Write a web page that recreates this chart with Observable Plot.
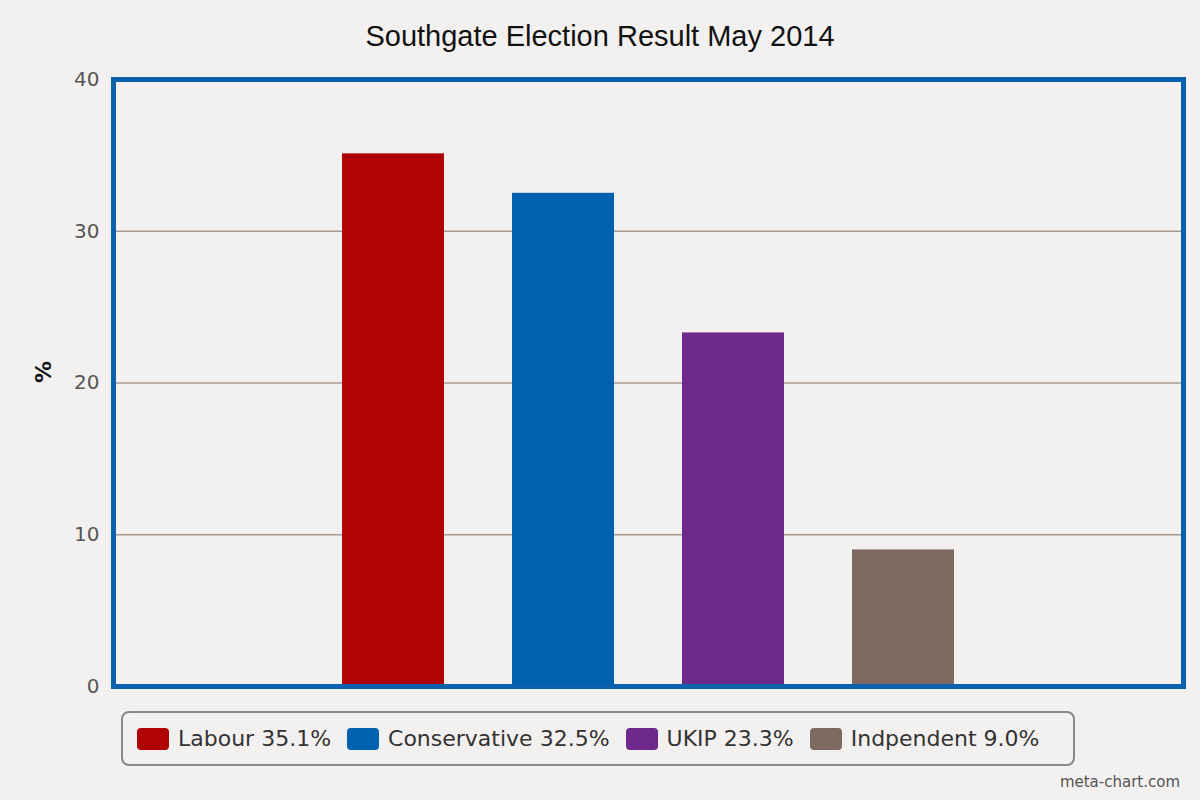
<!DOCTYPE html>
<html><head><meta charset="utf-8">
<script src="https://cdn.jsdelivr.net/npm/d3@7"></script>
<script src="https://cdn.jsdelivr.net/npm/@observablehq/plot@0.6"></script>
<style>
body{margin:0;background:#f3f1ef;font-family:"DejaVu Sans",sans-serif;}
#wrap{position:relative;width:1200px;height:800px;}
#title{position:absolute;top:20px;left:0;width:1200px;text-align:center;font:29px "Liberation Sans",Arial,sans-serif;color:#111;}
#legend{position:absolute;left:121px;top:711px;width:954px;height:55px;border:2px solid #8a8a8a;border-radius:8px;box-sizing:border-box;display:flex;align-items:center;padding-left:14px;font-size:22px;color:#333;}
.item{display:flex;align-items:center;margin-right:16px;}
.sw{width:32px;height:22px;border-radius:4px;margin-right:9px;}
#credit{position:absolute;right:20px;top:773px;font-size:15px;color:#555;}
</style></head><body>
<div id="wrap"><div id="title">Southgate Election Result May 2014</div><div id="chart"></div><div id="legend"></div><div id="credit">meta-chart.com</div></div>
<script>
const parties = ["Labour","Conservative","UKIP","Indpendent"];
const values = [35.1,32.5,23.3,9.0];
const colors = ["#b00404","#0062ae","#6d2a8c","#7f6a62"];
const yTicks = [0,10,20,30,40];
const data = parties.map((p,i)=>({party:p,value:values[i]}));
const chart = Plot.plot({
  width:1200,height:800,marginTop:79,marginBottom:114,marginLeft:113,marginRight:17,
  style:{background:"transparent",fontSize:"20px",fontFamily:"DejaVu Sans"},
  x:{domain:parties,paddingInner:0.4,paddingOuter:1.34,axis:null},
  y:{domain:[0,40],ticks:yTicks,label:null},
  color:{domain:parties,range:colors},
  marks:[
    Plot.ruleY([10,20,30],{stroke:"#a8998f",strokeWidth:1.5}),
    Plot.barY(data,{x:"party",y:"value",fill:"party"}),
    Plot.axisY({ticks:yTicks,tickSize:0,tickPadding:14,fill:"#555",fontSize:20}),
    Plot.frame({stroke:"#0a62ae",strokeWidth:5}),
    Plot.text(["%"],{frameAnchor:"left",dx:-70,rotate:-90,fontSize:22,fontWeight:"bold",fill:"#111"})
  ]
});
document.getElementById("chart").appendChild(chart);
const lg=document.getElementById("legend");
parties.forEach((p,i)=>{const d=document.createElement("div");d.className="item";
d.innerHTML=`<div class="sw" style="background:${colors[i]}"></div>${p} ${values[i].toFixed(1)}%`;lg.appendChild(d);});
</script></body></html>
